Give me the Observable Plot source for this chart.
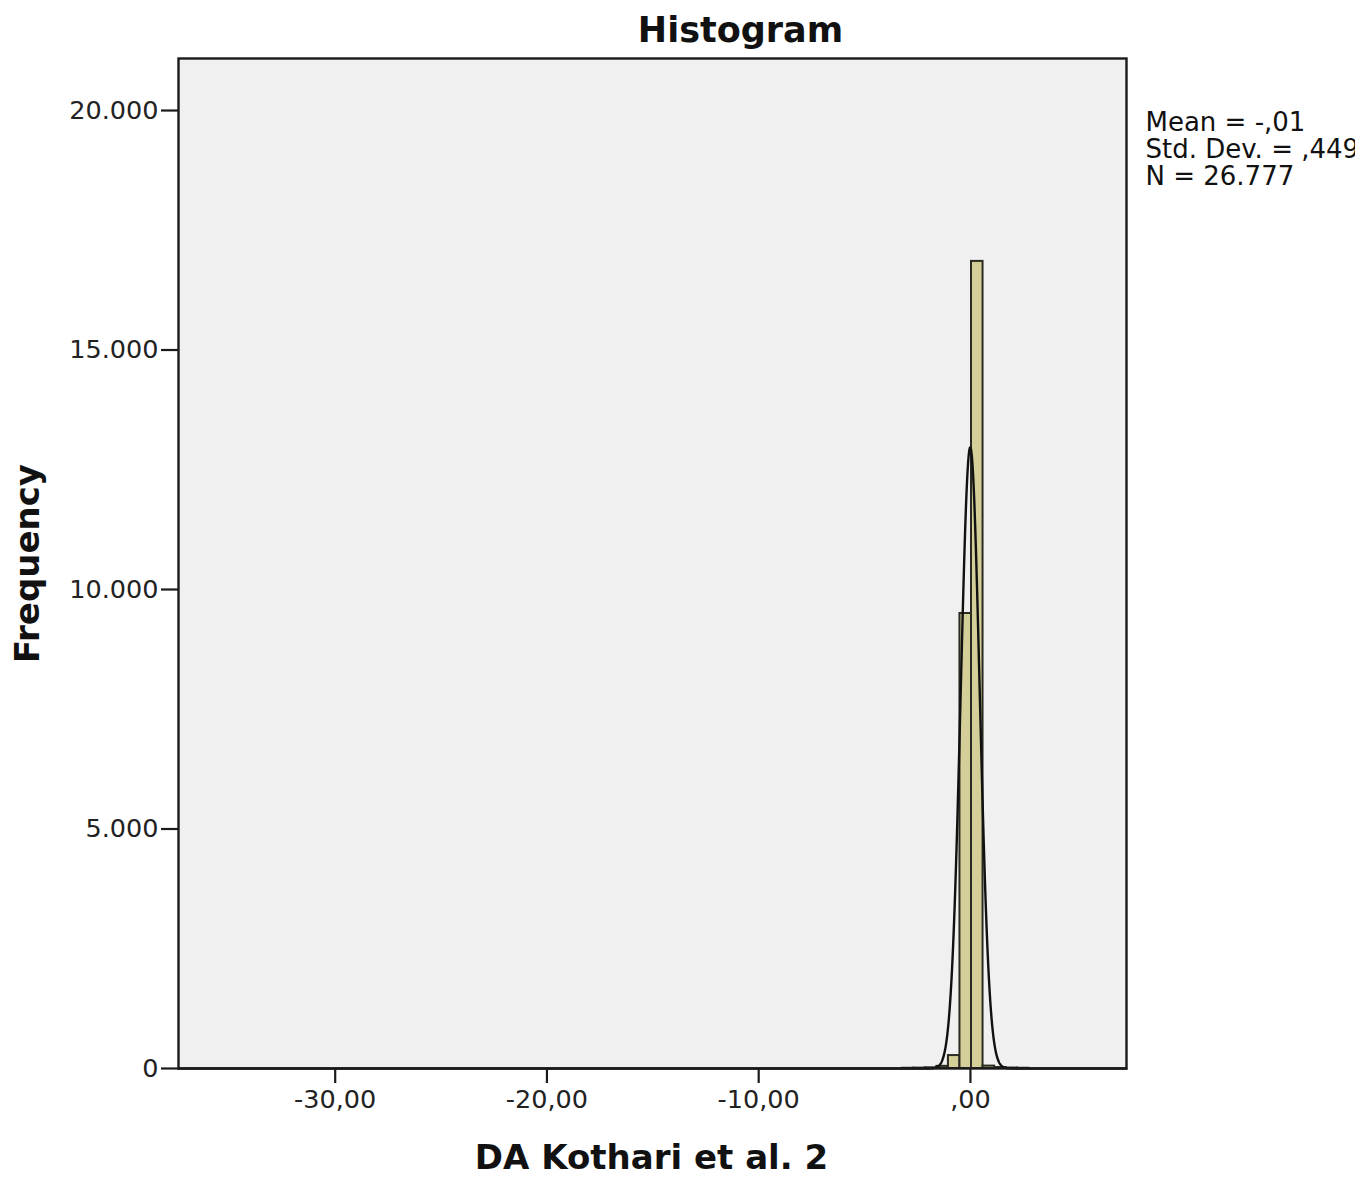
<!DOCTYPE html>
<html>
<head>
<meta charset="utf-8">
<script src="https://cdn.jsdelivr.net/npm/d3@7"></script>
<script src="https://cdn.jsdelivr.net/npm/@observablehq/plot@0.6"></script>
<style>
  html, body { margin: 0; padding: 0; background: #ffffff; }
  #chart svg { display: block; }
</style>
</head>
<body>
<div id="chart"></div>
<script>
// ---- Data ----
const binWidth = 0.545;
const binStarts = [-3.22, -2.675, -2.13, -1.585, -1.04, -0.495, 0.05, 0.595, 1.14, 1.685, 2.23];
const binCounts = [5, 8, 15, 45, 270, 9499, 16850, 50, 20, 10, 5];

const statMean = -0.01;
const statSD = 0.449;
const statN = 26777;
const legendLines = ["Mean = -,01", "Std. Dev. = ,449", "N = 26.777"];

const xTicks = [-30, -20, -10, 0];
const xTickLabels = ["-30,00", "-20,00", "-10,00", ",00"];
const yTicks = [0, 5000, 10000, 15000, 20000];
const yTickLabels = ["0", "5.000", "10.000", "15.000", "20.000"];

const titleText = "Histogram";
const xLabelText = "DA Kothari et al. 2";
const yLabelText = "Frequency";

// ---- Build tables ----
const bins = binStarts.map((s, i) => ({x1: s, x2: s + binWidth, count: binCounts[i]}));

// SPSS normal-curve overlay defined by the stated Mean / Std. Dev. / N and bin width
const curve = d3.range(-37.4, 7.37, 0.01).map(x => ({
  x,
  y: statN * binWidth * Math.exp(-0.5 * ((x - statMean) / statSD) ** 2) / (statSD * Math.sqrt(2 * Math.PI))
}));

const xFmt = new Map(xTicks.map((t, i) => [t, xTickLabels[i]]));
const yFmt = new Map(yTicks.map((t, i) => [t, yTickLabels[i]]));

const legendMarks = legendLines.map((line, i) =>
  Plot.text([line], {frameAnchor: "top-right", dx: 19, dy: 64 + 27 * i, text: d => d,
    fontSize: 26, fill: "#111", textAnchor: "start", lineAnchor: "middle"})
);

const chart = Plot.plot({
  width: 1355,
  height: 1177,
  marginLeft: 178,
  marginRight: 229,
  marginTop: 58,
  marginBottom: 109,
  style: {fontFamily: "DejaVu Sans", fontSize: "25px", color: "#222", background: "#ffffff"},
  x: {domain: [-37.4, 7.37]},
  y: {domain: [0, 21086]},
  marks: [
    Plot.frame({fill: "#f0f0f0", stroke: null}),
    Plot.rectY(bins, {x1: "x1", x2: "x2", y: "count", fill: "#d4cf98", stroke: "#2a2a22", strokeWidth: 2}),
    Plot.line(curve, {x: "x", y: "y", stroke: "#111", strokeWidth: 2.4}),
    Plot.frame({stroke: "#1a1a1a", strokeWidth: 2.4}),
    Plot.axisY({ticks: yTicks, tickFormat: d => yFmt.get(d), tickSize: 17, tickPadding: 3, stroke: "#1a1a1a", strokeWidth: 2.2, fontSize: 25.5, fill: "#222", label: null}),
    Plot.axisX({ticks: xTicks, tickFormat: d => xFmt.get(d), tickSize: 15, tickPadding: 6, stroke: "#1a1a1a", strokeWidth: 2.2, fontSize: 25.5, fill: "#222", label: null}),
    Plot.text([titleText], {frameAnchor: "top", dx: 88, dy: -28, text: d => d, fontSize: 35, fontWeight: "bold", fill: "#111", textAnchor: "middle", lineAnchor: "middle"}),
    Plot.text([xLabelText], {frameAnchor: "bottom", dx: -1, dy: 90, text: d => d, fontSize: 34, fontWeight: "bold", fill: "#111", textAnchor: "middle", lineAnchor: "middle"}),
    Plot.text([yLabelText], {frameAnchor: "left", dx: -150, text: d => d, fontSize: 34, fontWeight: "bold", fill: "#111", rotate: -90, textAnchor: "middle", lineAnchor: "middle"}),
    ...legendMarks
  ]
});
document.getElementById("chart").appendChild(chart);
</script>
</body>
</html>
